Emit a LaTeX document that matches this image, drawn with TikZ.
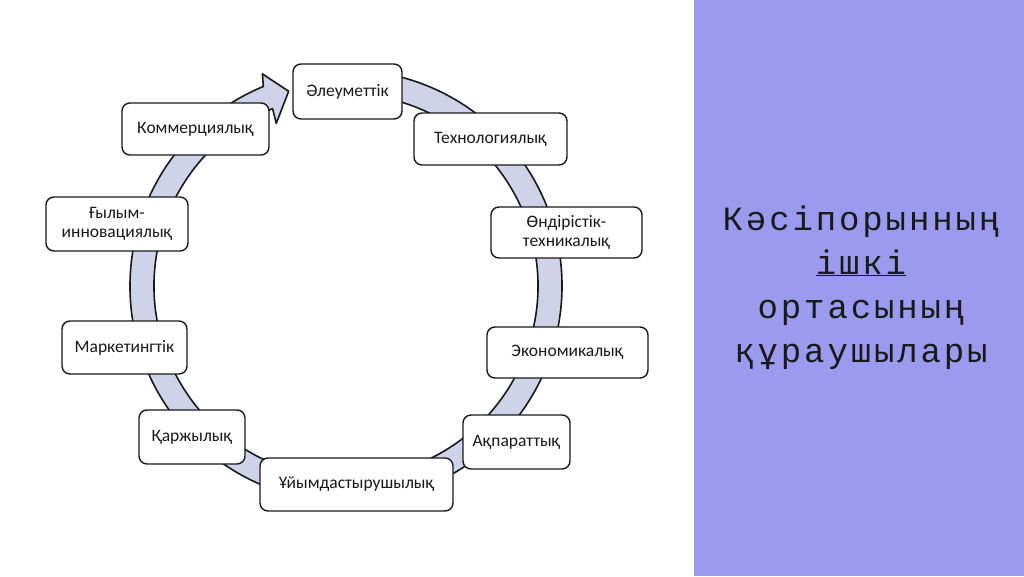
\documentclass[tikz,border=0pt]{standalone}
\usepackage{fontspec}
\setmainfont{Carlito}
\newfontfamily\kmono{Liberation Mono}[LetterSpace=8.5]
\definecolor{panel}{RGB}{154,154,238}
\definecolor{ringfill}{RGB}{206,211,233}
\definecolor{ink}{RGB}{25,25,25}
\begin{document}
\begin{tikzpicture}[x=1pt,y=-1pt,
  box/.style={draw=ink, line width=1.4pt, rounded corners=8pt, fill=white,
    inner sep=0pt, align=center, text=ink,
    font=\fontsize{17.5}{19}\selectfont},
  ring/.style={draw=ink, line width=1.6pt, fill=ringfill, line join=round},
  rtext/.style={anchor=base, inner sep=0pt, text=ink,
    font=\kmono\fontsize{34}{44}\selectfont}]
\fill[white] (0,0) rectangle (1024,576);
\useasboundingbox (0,0) rectangle (1024,576);
\fill[panel] (694,0) rectangle (1024,576);
% circular arrow
\begin{scope}[shift={(346,286)}]
\draw[ring] (-84:216) arc[start angle=-84, end angle=247.5, radius=216]
  -- (248.5:228) -- (253.6:203) -- (246.8:177) -- (247.5:192)
  arc[start angle=247.5, end angle=-84, radius=192] -- cycle;
\end{scope}
% boxes
\node[box, minimum width=109pt, minimum height=55pt] (n1) at (347.5,91.5) {Әлеуметтік};
\node[box, minimum width=153pt, minimum height=52pt] (n2) at (490.5,139) {Технологиялық};
\node[box, minimum width=151pt, minimum height=51pt] (n3) at (566.5,232.5) {Өндірістік-\\техникалық};
\node[box, minimum width=161pt, minimum height=51pt] (n4) at (567.5,352.5) {Экономикалық};
\node[box, minimum width=107pt, minimum height=54pt] (n5) at (516.5,442) {Ақпараттық};
\node[box, minimum width=193pt, minimum height=53pt] (n6) at (356.5,484.5) {Ұйымдастырушылық};
\node[box, minimum width=106pt, minimum height=54pt] (n7) at (192,437) {Қаржылық};
\node[box, minimum width=125pt, minimum height=53pt] (n8) at (124.5,347.5) {Маркетингтік};
\node[box, minimum width=142pt, minimum height=54pt] (n9) at (117,224) {Ғылым-\\инновациялық};
\node[box, minimum width=147pt, minimum height=52pt] (n10) at (195.5,129) {Коммерциялық};
% title text
\node[rtext] (t1) at (861,230) {Кәсіпорынның};
\node[rtext] (t2) at (861,274) {\underline{ішкі}};
\node[rtext] (t3) at (861,318) {ортасының};
\node[rtext] (t4) at (861,362) {құраушылары};
\end{tikzpicture}
\end{document}
